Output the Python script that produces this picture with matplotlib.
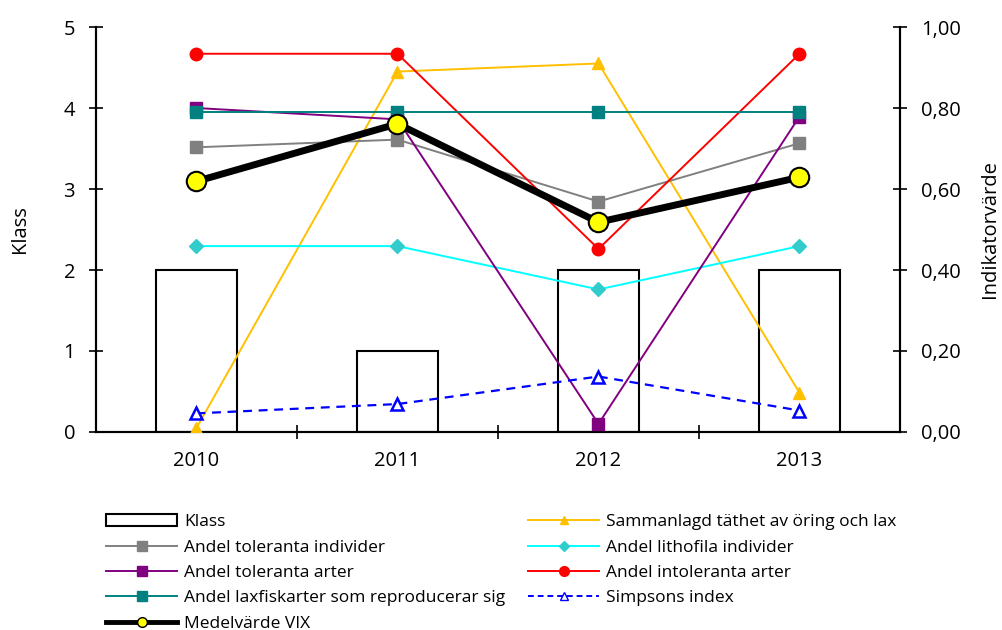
import matplotlib
matplotlib.use("Agg")
import matplotlib.pyplot as plt
from matplotlib.ticker import FuncFormatter, FixedLocator
from matplotlib.patches import Patch
from matplotlib.lines import Line2D
import numpy as np

plt.rcParams['font.family'] = ['Open Sans', 'DejaVu Sans']

years = ["2010", "2011", "2012", "2013"]
klass = [2, 1, 2, 2]

tathet_oring_lax = [0.01, 0.89, 0.91, 0.097]
toleranta_individer = [0.703, 0.722, 0.569, 0.713]
lithofila_individer = [0.459, 0.459, 0.352, 0.459]
toleranta_arter = [0.80, 0.772, 0.02, 0.779]
intoleranta_arter = [0.934, 0.934, 0.452, 0.934]
laxfisk_reproducerar = [0.791, 0.791, 0.791, 0.791]
simpsons_index = [0.046, 0.069, 0.137, 0.053]
medelvarde_vix = [0.619, 0.761, 0.518, 0.629]

fig = plt.figure(figsize=(10.03, 6.30), dpi=100)
ax = fig.add_axes([0.0957, 0.3143, 0.8016, 0.6428])
ax2 = ax.twinx()

x = np.arange(len(years))
ax.bar(x, klass, width=0.4, facecolor='white', edgecolor='black', linewidth=1.5, zorder=1)
ax.set_xlim(-0.5, len(years) - 0.5)
ax.set_ylim(0, 5)
ax.set_yticks([0, 1, 2, 3, 4, 5])
ax.set_ylabel("Klass", fontsize=14.5, labelpad=24)
ax.set_xticks(x)
ax.set_xticklabels(years, fontsize=14.5)
ax.tick_params(axis='x', length=0, pad=14)
ax.xaxis.set_minor_locator(FixedLocator([0.5, 1.5, 2.5]))
ax.tick_params(axis='x', which='minor', direction='inout', length=10, width=1.2)
ax.tick_params(axis='y', direction='inout', length=10, width=1.2, labelsize=14.5, pad=10)

ax2.set_ylim(0, 1.0)
ax2.set_yticks([0, 0.2, 0.4, 0.6, 0.8, 1.0])
ax2.yaxis.set_major_formatter(FuncFormatter(lambda v, p: f"{v:.2f}".replace('.', ',')))
ax2.tick_params(axis='y', direction='inout', length=10, width=1.2, labelsize=14.5, pad=10)
ax2.set_ylabel("Indikatorvärde", fontsize=14.5, labelpad=14)

for a in (ax, ax2):
    a.spines['top'].set_visible(False)
    for s in ('left', 'right', 'bottom'):
        a.spines[s].set_linewidth(1.5)

lw = 1.4
ax2.plot(x, tathet_oring_lax, color='#FFC000', lw=lw, marker='^', ms=9, zorder=3)
ax2.plot(x, toleranta_individer, color='#808080', lw=lw, marker='s', ms=8, zorder=3)
ax2.plot(x, lithofila_individer, color='#00FFFF', lw=lw, marker='D', ms=7,
         mfc='#33CCCC', mec='#33CCCC', zorder=3)
ax2.plot(x, toleranta_arter, color='#800080', lw=lw, marker='s', ms=8, zorder=3)
ax2.plot(x, intoleranta_arter, color='#FF0000', lw=lw, marker='o', ms=9, zorder=3)
ax2.plot(x, laxfisk_reproducerar, color='#008080', lw=lw, marker='s', ms=8, zorder=3)
ax2.plot(x, simpsons_index, color='#0000FF', lw=1.6, ls=(0, (4, 3)), marker='^', ms=9,
         mfc='white', mec='#0000FF', mew=1.8, zorder=3)
ax2.plot(x, medelvarde_vix, color='black', lw=5, marker='o', ms=14,
         mfc='#FFFF00', mec='black', mew=1.5, zorder=4)

handles = [
    Patch(facecolor='white', edgecolor='black', linewidth=1.5),
    Line2D([], [], color='#808080', lw=lw, marker='s', ms=7),
    Line2D([], [], color='#800080', lw=lw, marker='s', ms=7),
    Line2D([], [], color='#008080', lw=lw, marker='s', ms=7),
    Line2D([], [], color='black', lw=3.5, marker='o', ms=7, mfc='#FFFF00', mec='black'),
    Line2D([], [], color='#FFC000', lw=lw, marker='^', ms=6),
    Line2D([], [], color='#00FFFF', lw=lw, marker='D', ms=5, mfc='#33CCCC', mec='#33CCCC'),
    Line2D([], [], color='#FF0000', lw=lw, marker='o', ms=7),
    Line2D([], [], color='#0000FF', lw=1.4, ls=(0, (3, 2)), marker='^', ms=6,
           mfc='white', mec='#0000FF'),
]
labels = [
    "Klass",
    "Andel toleranta individer",
    "Andel toleranta arter",
    "Andel laxfiskarter som reproducerar sig",
    "Medelvärde VIX",
    "Sammanlagd täthet av öring och lax",
    "Andel lithofila individer",
    "Andel intoleranta arter",
    "Simpsons index",
]
fig.legend(handles, labels, ncol=2, loc='upper left', bbox_to_anchor=(0.106, 0.184),
           frameon=False, fontsize=12.5, handlelength=4.1, handletextpad=0.4,
           columnspacing=1.3, labelspacing=0.53, borderaxespad=0, borderpad=0)

fig.savefig("out.png", dpi=100)
